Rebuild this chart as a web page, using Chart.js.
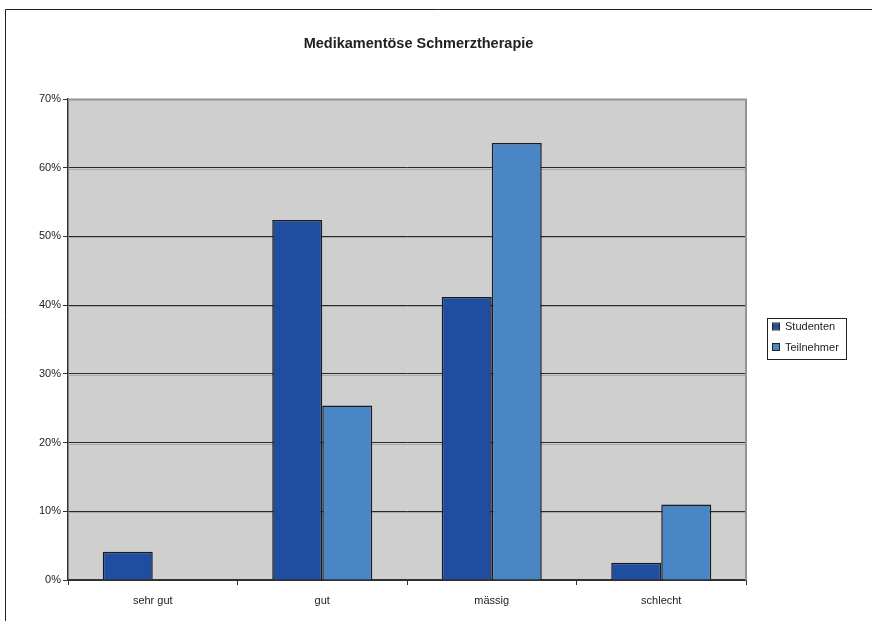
<!DOCTYPE html>
<html lang="de">
<head>
<meta charset="utf-8">
<title>Medikamentöse Schmerztherapie</title>
<script src="https://cdn.jsdelivr.net/npm/chart.js@4/dist/chart.umd.min.js"></script>
<style>
  html, body { margin: 0; padding: 0; background: #fff; }
  canvas { display: block; }
</style>
</head>
<body>
<canvas id="chart" width="872" height="621"></canvas>
<script>
// Bewertung der medikamentösen Schmerztherapie (Anteile in %)
const categories = ['sehr gut', 'gut', 'mässig', 'schlecht'];
const studenten = [4.1, 52.4, 41.2, 2.5];
const teilnehmer = [0, 25.4, 63.6, 11.0];
const seriesNames = ['Studenten', 'Teilnehmer'];
const yTicks = [0, 10, 20, 30, 40, 50, 60, 70];
const titleText = 'Medikamentöse Schmerztherapie';

const FONT = '"Liberation Sans", Arial, Helvetica, sans-serif';
const COL_STUD = '#1F4DA0';
const COL_TEIL = '#4A86C6';
const INK = '#222222';

// Frame, plot background, title and legend
const decor = {
  id: 'decor',
  beforeDraw(chart) {
    const { ctx, chartArea: a } = chart;
    ctx.save();
    ctx.fillStyle = '#fff';
    ctx.fillRect(0, 0, chart.width, chart.height);
    // outer frame (top and left)
    ctx.strokeStyle = INK;
    ctx.lineWidth = 1;
    ctx.beginPath();
    ctx.moveTo(5.5, chart.height);
    ctx.lineTo(5.5, 9.5);
    ctx.lineTo(chart.width, 9.5);
    ctx.stroke();
    // plot background
    ctx.fillStyle = '#CFCFCF';
    ctx.fillRect(a.left, a.top, a.right - a.left, a.bottom - a.top);
    ctx.restore();
  },
  beforeDatasetsDraw(chart) {
    const { ctx, chartArea: a, scales } = chart;
    ctx.save();
    // light shadow under each gridline
    ctx.strokeStyle = '#A8A8A8';
    ctx.lineWidth = 1;
    yTicks.forEach(v => {
      if (v === 0 || v === 70) return;
      const y = Math.round(scales.y.getPixelForValue(v)) + 1.5;
      ctx.beginPath();
      ctx.moveTo(a.left, y);
      ctx.lineTo(a.right, y);
      ctx.stroke();
    });
    // plot border on top and right
    ctx.strokeStyle = '#939393';
    ctx.lineWidth = 2;
    ctx.beginPath();
    ctx.moveTo(a.left, a.top + 0.5);
    ctx.lineTo(a.right, a.top + 0.5);
    ctx.lineTo(a.right, a.bottom);
    ctx.stroke();
    ctx.restore();
  },
  afterDraw(chart) {
    const { ctx } = chart;
    ctx.save();
    // title
    ctx.fillStyle = INK;
    ctx.font = 'bold 14.5px ' + FONT;
    ctx.textAlign = 'center';
    ctx.textBaseline = 'middle';
    ctx.fillText(titleText, 418.5, 44);
    // legend
    ctx.strokeStyle = INK;
    ctx.lineWidth = 1;
    ctx.strokeRect(767.5, 318.5, 79, 41);
    ctx.font = '11px ' + FONT;
    ctx.textAlign = 'left';
    const rows = [327, 347.5];
    chart.data.datasets.forEach((ds, i) => {
      const y = rows[i];
      ctx.fillStyle = ds.backgroundColor;
      ctx.fillRect(773, y - 3.5, 6, 6);
      ctx.strokeStyle = INK;
      ctx.strokeRect(772.5, y - 4, 7, 7);
      ctx.fillStyle = INK;
      ctx.fillText(ds.label, 785, y);
    });
    ctx.restore();
  }
};

new Chart(document.getElementById('chart'), {
  type: 'bar',
  data: {
    labels: categories,
    datasets: [
      { label: seriesNames[0], data: studenten, backgroundColor: COL_STUD },
      { label: seriesNames[1], data: teilnehmer, backgroundColor: COL_TEIL }
    ]
  },
  options: {
    responsive: false,
    animation: false,
    devicePixelRatio: 1,
    layout: { padding: { top: 99, right: 126, left: 0, bottom: 0 } },
    datasets: {
      bar: {
        categoryPercentage: 0.59,
        barPercentage: 1.0,
        borderColor: '#1A1A1A',
        borderWidth: 1.5
      }
    },
    plugins: {
      legend: { display: false },
      title: { display: false },
      tooltip: { enabled: false }
    },
    scales: {
      y: {
        min: 0,
        max: 70,
        afterFit(scale) { scale.width = 68; },
        afterBuildTicks(scale) { scale.ticks = yTicks.map(v => ({ value: v })); },
        ticks: {
          callback: v => v + '%',
          color: INK,
          font: { family: FONT, size: 11 },
          padding: 2
        },
        grid: {
          color: ctx => (ctx.tick && ctx.tick.value === 70) ? '#939393' : '#2A2A2A',
          lineWidth: 1,
          tickLength: 5,
          tickColor: '#333333'
        },
        border: { color: '#333333', width: 1.5 }
      },
      x: {
        afterFit(scale) { scale.height = 41; },
        ticks: {
          color: INK,
          font: { family: FONT, size: 11 },
          padding: 9
        },
        grid: {
          offset: true,
          drawOnChartArea: false,
          tickLength: 5,
          tickColor: '#333333'
        },
        border: { color: '#333333', width: 1.5 }
      }
    }
  },
  plugins: [decor]
});
</script>
</body>
</html>
